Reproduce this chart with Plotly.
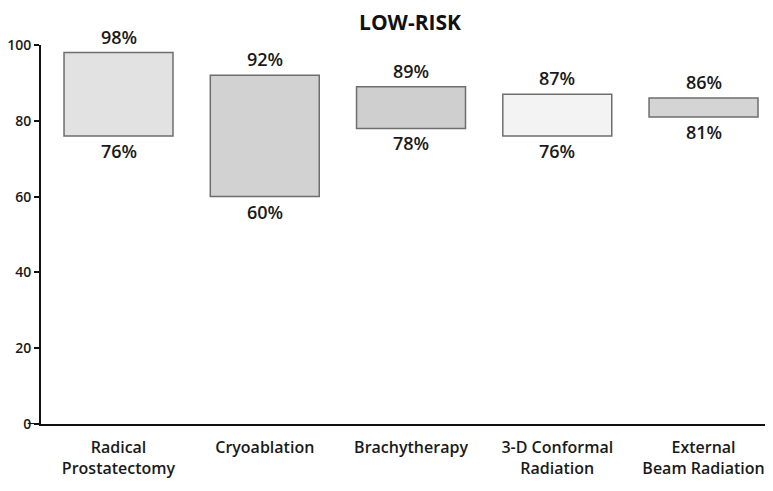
import plotly.graph_objects as go

categories = ["Radical<br>Prostatectomy", "Cryoablation", "Brachytherapy",
              "3-D Conformal<br>Radiation", "External<br>Beam Radiation"]
low_values = [76, 60, 78, 76, 81]
high_values = [98, 92, 89, 87, 86]
bar_colors = ["#e2e2e2", "#d2d2d2", "#cfcfcf", "#f3f3f3", "#d4d4d4"]
y_ticks = [0, 20, 40, 60, 80, 100]

x_idx = list(range(len(categories)))
font_family = "Open Sans, Noto Sans, sans-serif"
label_font = dict(size=18, color="#1a1a1a", family=font_family, weight=600)

fig = go.Figure()
fig.add_trace(go.Bar(
    x=x_idx,
    y=[h - l for h, l in zip(high_values, low_values)],
    base=low_values,
    marker=dict(color=bar_colors, line=dict(color="#6e6e6e", width=1.5)),
    showlegend=False,
    hoverinfo="skip",
))
for xi, hv in zip(x_idx, high_values):
    fig.add_annotation(x=xi, y=hv, text=f"{hv}%", showarrow=False,
                       yanchor="bottom", yshift=2, font=label_font)
for xi, lv in zip(x_idx, low_values):
    fig.add_annotation(x=xi, y=lv, text=f"{lv}%", showarrow=False,
                       yanchor="top", yshift=-1, font=label_font)

fig.update_layout(
    width=765, height=483,
    margin=dict(l=33, r=0, t=37, b=67),
    paper_bgcolor="white", plot_bgcolor="white",
    bargap=0.255,
    font=dict(family=font_family, color="#1a1a1a"),
    title=dict(text="<b>LOW-RISK</b>", x=0.5255, xanchor="center", y=0.984, yanchor="top",
               pad=dict(t=0, b=0), automargin=False,
               font=dict(size=21, family=font_family, color="#111", weight=900)),
    xaxis=dict(
        tickmode="array", tickvals=x_idx, ticktext=categories, automargin=False,
        range=[-0.53, 4.475], showline=True, linecolor="#111", linewidth=2,
        ticks="", showgrid=False, zeroline=False, ticklabelstandoff=8,
        tickfont=dict(size=16, family=font_family, color="#1a1a1a", weight=600),
    ),
    yaxis=dict(
        range=[0, 100], tickvals=y_ticks, showline=True, linecolor="#111", linewidth=2,
        ticks="outside", ticklen=5, tickwidth=2, tickcolor="#111", automargin=False,
        showgrid=False, zeroline=False,
        tickfont=dict(size=14, family=font_family, color="#1a1a1a", weight=600),
    ),
)
fig.add_shape(type="line", xref="paper", yref="y", x0=-0.018, x1=0, y0=0, y1=0,
              line=dict(color="#111", width=2))

fig.write_html("out.html")
